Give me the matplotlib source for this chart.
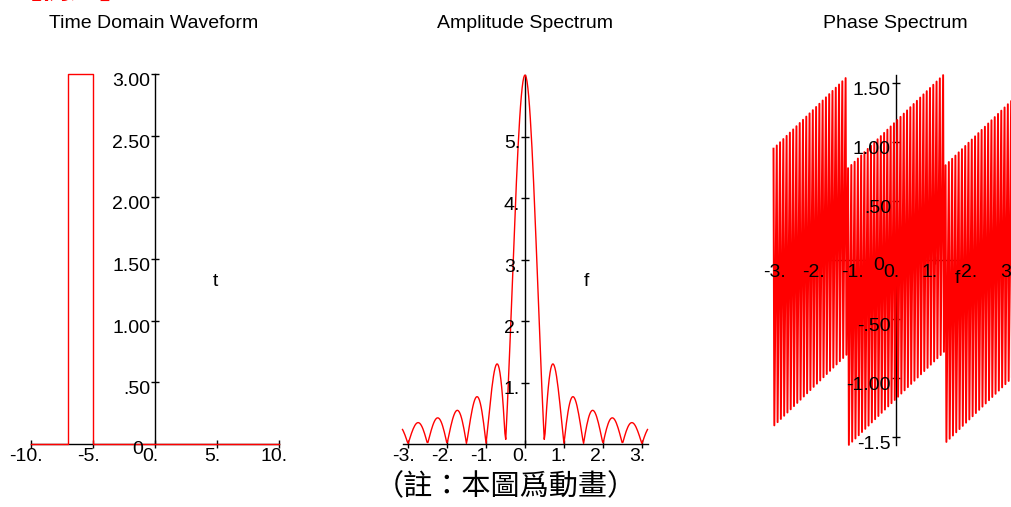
import numpy as np
import matplotlib
matplotlib.use('Agg')
import matplotlib.pyplot as plt

plt.rcParams['font.family'] = ['Liberation Sans', 'DejaVu Sans']

# rectangular pulse: height 3 between t = -7 and t = -5
t_pts = [-10, -7, -7, -5, -5, 10]
x_pts = [0, 0, 3, 3, 0, 0]

# tick positions / Maple-style tick labels
time_xticks = [-10, -5, 0, 5, 10]
time_xlabels = ['-10.', '-5.', '0.', '5.', '10.']
time_yticks = [0.5, 1.0, 1.5, 2.0, 2.5, 3.0]
time_ylabels = ['.50', '1.00', '1.50', '2.00', '2.50', '3.00']

freq_xticks = [-3, -2, -1, 0, 1, 2, 3]
freq_xlabels = ['-3.', '-2.', '-1.', '0.', '1.', '2.', '3.']
amp_yticks = [1, 2, 3, 4, 5]
amp_ylabels = ['1.', '2.', '3.', '4.', '5.']
phase_yticks = [-1.5, -1.0, -0.5, 0.5, 1.0, 1.5]
phase_ylabels = ['-1.5', '-1.00', '-.50', '.50', '1.00', '1.50']

titles = ['Time Domain Waveform', 'Amplitude Spectrum', 'Phase Spectrum']
note = '（註：本圖爲動畫）'
header = '【例題】'

# frequency grid (300 points over [-pi, pi])
f = np.linspace(-np.pi, np.pi, 300)


def spectrum(t, x, f):
    # Fourier transform of a piecewise-constant signal
    w = 2 * np.pi * f
    F = np.zeros_like(f, dtype=complex)
    for i in range(len(t) - 1):
        a, b = t[i], t[i + 1]
        if b > a and x[i] == x[i + 1] and x[i] != 0:
            F += x[i] * (np.exp(-1j * w * a) - np.exp(-1j * w * b)) / (1j * w)
    return F


F = spectrum(t_pts, x_pts, f)
amp = np.abs(F)
phase = np.arctan(F.imag / F.real)

W, H = 1011, 507
fig = plt.figure(figsize=(W / 100, H / 100), dpi=100)
FS = 14


def px_rect(x0, top, w, h):
    return [x0 / W, 1 - (top + h) / H, w / W, h / H]


def panel(rect, xlim, ylim, xticks, xlabels, yticks, ylabels, zero_label):
    ax = fig.add_axes(rect)
    ax.set_xlim(xlim)
    ax.set_ylim(ylim)
    ax.axis('off')
    ax.plot(xlim, [0, 0], color='black', lw=1.0, zorder=1, clip_on=False)
    ax.plot([0, 0], ylim, color='black', lw=1.0, zorder=1, clip_on=False)
    ax.plot(xticks, [0] * len(xticks), ls='none', marker='|', ms=6, mew=1.0,
            color='black', zorder=1, clip_on=False)
    ax.plot([0] * len(yticks), yticks, ls='none', marker='_', ms=6, mew=1.0,
            color='black', zorder=1, clip_on=False)
    for x, lbl in zip(xticks, xlabels):
        ax.annotate(lbl, (x, 0), xytext=(-5, -4), textcoords='offset pixels',
                    ha='center', va='top', fontsize=FS, zorder=3)
    for y, lbl in zip(yticks, ylabels):
        ax.annotate(lbl, (0, y), xytext=(-5, 1), textcoords='offset pixels',
                    ha='right', va='top', fontsize=FS, zorder=3)
    if zero_label:
        ax.annotate('0', (0, 0), xytext=(-12, 3), textcoords='offset pixels',
                    ha='right', va='top', fontsize=FS, zorder=3)
    return ax


ax1 = panel(px_rect(31, 74, 248, 370), (-10, 10), (0, 3),
            time_xticks, time_xlabels, time_yticks, time_ylabels, True)
ax1.plot(t_pts, x_pts, color='red', lw=1.0, zorder=2, clip_on=False)
ax1.text(0.745, 0.44, 't', transform=ax1.transAxes, ha='center', va='center', fontsize=FS)

ax2 = panel(px_rect(402.5, 75, 245, 369), (-np.pi, np.pi), (0, 6),
            freq_xticks, freq_xlabels, amp_yticks, amp_ylabels, False)
ax2.plot(f, amp, color='red', lw=1.0, zorder=2, clip_on=False)
ax2.text(0.75, 0.44, 'f', transform=ax2.transAxes, ha='center', va='center', fontsize=FS)

ax3 = panel(px_rect(773.5, 75, 245, 370), (-np.pi, np.pi), (-np.pi / 2, np.pi / 2),
            freq_xticks, freq_xlabels, phase_yticks, phase_ylabels, True)
ax3.plot(f, phase, color='red', lw=1.4, zorder=2, clip_on=False)
ax3.text(0.75, 0.45, 'f', transform=ax3.transAxes, ha='center', va='center', fontsize=FS)

for xc, title in zip([154, 525, 895], titles):
    fig.text(xc / W, 1 - 28 / H, title, ha='center', va='baseline', fontsize=FS)

cjk = ['Noto Sans CJK TC', 'DejaVu Sans']
fig.text(506 / W, 1 - 487 / H, note, ha='center', va='center', fontsize=21, family=cjk)
# red heading, mostly above the top edge
fig.text(13 / W, 1 + 2 / H, header, ha='left', va='baseline', fontsize=21,
         color='red', fontweight='bold', family=cjk)

fig.savefig('out.png', dpi=100)
